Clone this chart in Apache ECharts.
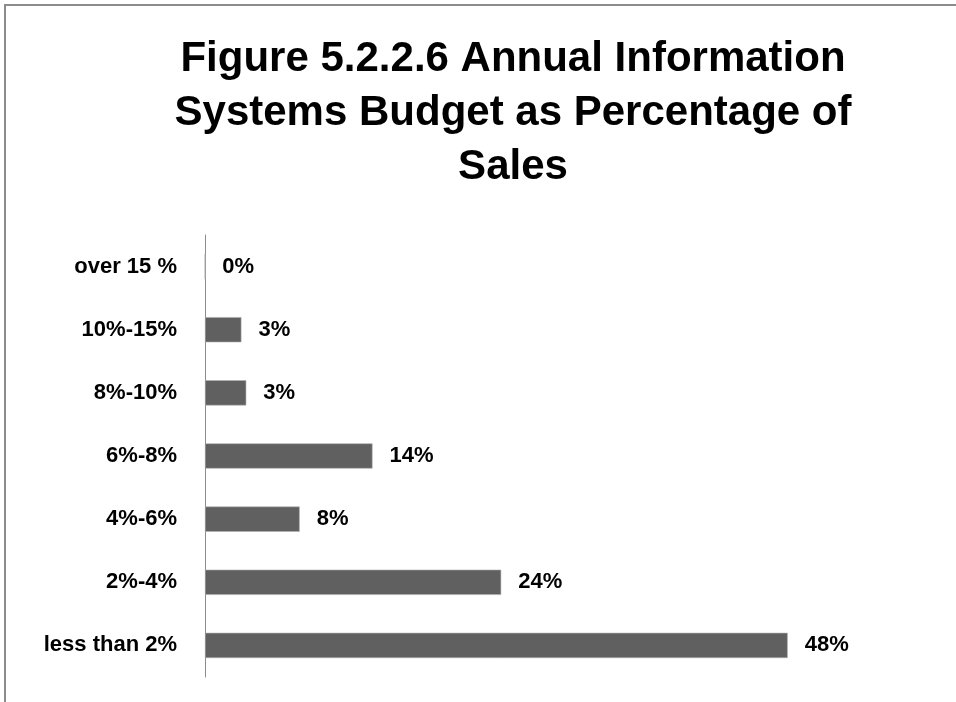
<!DOCTYPE html>
<html>
<head>
<meta charset="utf-8">
<script src="https://cdn.jsdelivr.net/npm/echarts@6/dist/echarts.min.js"></script>
<style>
  html, body { margin: 0; padding: 0; background: #ffffff; }
  #chart { width: 956px; height: 702px; }
</style>
</head>
<body>
<div id="chart"></div>
<script>
// Budget bands (bottom to top on the category axis)
const categories = ['less than 2%', '2%-4%', '4%-6%', '6%-8%', '8%-10%', '10%-15%', 'over 15 %'];
// Share of respondents in each band, percent
const shares = [48, 24.4, 7.8, 13.8, 3.4, 3.0, 0];

const titleText = 'Figure 5.2.2.6 Annual Information\nSystems Budget as Percentage of\nSales';
const fontFamily = '"Liberation Sans", Arial, sans-serif';

const chart = echarts.init(document.getElementById('chart'), null, { renderer: 'canvas' });

chart.setOption({
  backgroundColor: '#ffffff',
  animation: false,
  title: {
    text: titleText,
    left: 508,
    top: 27,
    textAlign: 'center',
    textStyle: {
      fontFamily: fontFamily,
      fontWeight: 'bold',
      fontSize: 42,
      lineHeight: 54,
      color: '#000000'
    }
  },
  graphic: [
    {
      type: 'polyline',
      shape: { points: [[5, 702], [5, 5], [956, 5]] },
      style: { stroke: '#8c8c8c', lineWidth: 2, fill: null }
    }
  ],
  grid: {
    left: 205,
    right: 144,
    top: 235,
    bottom: 25,
    containLabel: false
  },
  xAxis: {
    type: 'value',
    min: 0,
    max: 50,
    show: false
  },
  yAxis: {
    type: 'category',
    data: categories,
    axisLine: { show: true, lineStyle: { color: '#8c8c8c', width: 1 } },
    axisTick: { show: false },
    axisLabel: {
      margin: 28,
      fontFamily: fontFamily,
      fontWeight: 'bold',
      fontSize: 22,
      color: '#000000'
    },
    splitLine: { show: false }
  },
  series: [
    {
      type: 'bar',
      data: shares,
      barCategoryGap: '60%',
      itemStyle: { color: '#606060', borderColor: '#b0b0b0', borderWidth: 0.6 },
      label: {
        show: true,
        position: 'right',
        distance: 17,
        formatter: p => Math.round(p.value) + '%',
        fontFamily: fontFamily,
        fontWeight: 'bold',
        fontSize: 22,
        color: '#000000'
      }
    }
  ]
});
</script>
</body>
</html>
